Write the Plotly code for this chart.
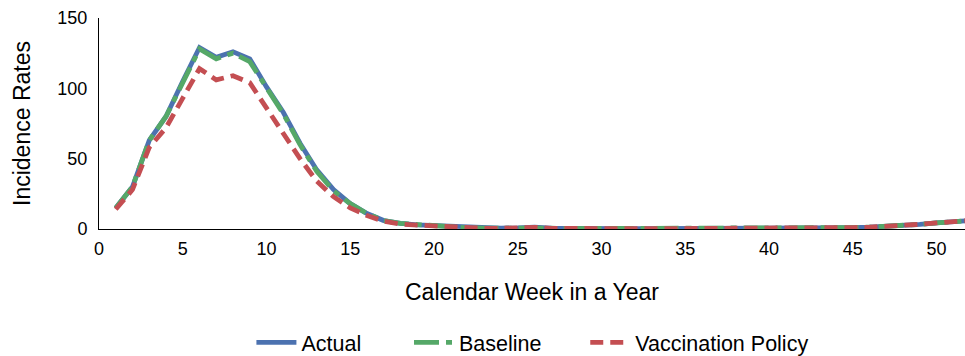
import plotly.graph_objects as go

weeks = list(range(1, 53))
actual = [15, 30, 63, 80, 105, 129, 122, 126, 121, 101,
          83, 61, 42, 28, 18, 11, 6, 4, 3, 2.5,
          1.5, 0.8, 0.6, 0.6, 0.8, 1.3, 0.6, 0.3, 0.3, 0.3,
          0.2, 0.2, 0.2, 0.2, 0.2, 0.2, 0.3, 0.4, 0.4, 0.5,
          0.6, 0.3, 0.5, 0.6, 1, 1.3, 1.8, 2.3, 3.3, 4.3,
          5.3, 6]
baseline = [15, 30, 63, 80, 104, 128, 121, 125, 119, 100,
            82, 60, 41, 27, 18, 11, 6, 4, 3, 2.5,
            1.5, 0.8, 0.6, 0.6, 0.8, 1.3, 0.6, 0.3, 0.3, 0.3,
            0.2, 0.2, 0.2, 0.2, 0.2, 0.2, 0.3, 0.4, 0.4, 0.5,
            0.6, 0.3, 0.5, 0.6, 1, 1.3, 1.8, 2.3, 3.3, 4.3,
            5.3, 6]
vaccination = [14, 28, 58, 72, 93, 114, 106, 109, 104, 86,
               69, 50, 34, 23, 15, 9.5, 5.5, 3.5, 2.8, 2.2,
               1.3, 0.7, 0.5, 0.5, 0.7, 1.2, 0.5, 0.3, 0.3, 0.3,
               0.2, 0.2, 0.2, 0.2, 0.2, 0.2, 0.3, 0.4, 0.4, 0.5,
               0.6, 0.3, 0.5, 0.6, 1, 1.3, 1.8, 2.3, 3.3, 4.3,
               5.3, 6]

series = [
    ("Actual", actual, "#4c72b0", "solid", "legend", 0.176),
    ("Baseline", baseline, "#55a868", "25px,7px,6px,7px", "legend2", 0.358),
    ("Vaccination Policy", vaccination, "#c44e52", "13px,7px", "legend3", 0.5615),
]

fig = go.Figure()
legend_cfg = {}
for name, vals, color, dash, leg, lx in series:
    fig.add_trace(go.Scatter(x=weeks, y=vals, name=name, mode="lines", legend=leg,
                             line=dict(color=color, width=4.8, dash=dash)))
    legend_cfg[leg] = dict(orientation="h", x=lx, xanchor="left", y=-0.537,
                           yanchor="middle", font=dict(size=21.5), itemwidth=40,
                           bgcolor="rgba(0,0,0,0)")

fig.update_layout(
    width=965, height=356,
    margin=dict(l=99, r=0, t=18, b=127, autoexpand=False),
    paper_bgcolor="white", plot_bgcolor="white",
    font=dict(family="Liberation Sans, Arial, sans-serif", size=18, color="black"),
    showlegend=True,
    **legend_cfg,
    xaxis=dict(range=[0, 51.7], tickvals=[0, 5, 10, 15, 20, 25, 30, 35, 40, 45, 50],
               showgrid=False, zeroline=False, showline=True, linecolor="black",
               linewidth=1, ticks="", ticklabelstandoff=3, automargin=False,
               title=dict(text="Calendar Week in a Year",
                          font=dict(size=23), standoff=26)),
    yaxis=dict(range=[0, 150], tickvals=[0, 50, 100, 150], showgrid=False,
               zeroline=False, showline=True, linecolor="black", linewidth=1,
               ticks="", ticklabelstandoff=7, automargin=False,
               title=dict(text="Incidence Rates", font=dict(size=23), standoff=20)),
)

fig.write_html("out.html")
